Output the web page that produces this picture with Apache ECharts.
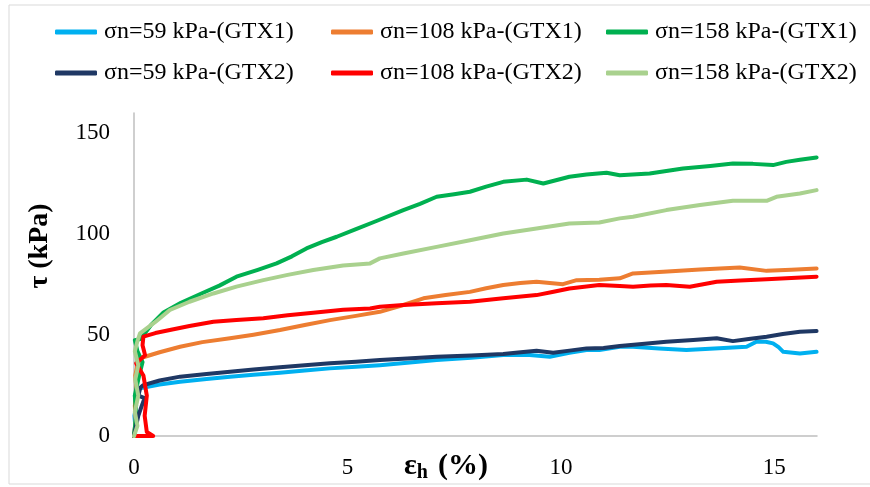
<!DOCTYPE html>
<html>
<head>
<meta charset="utf-8">
<script src="https://cdn.jsdelivr.net/npm/echarts@6/dist/echarts.min.js"></script>
<style>html,body{margin:0;padding:0;background:#fff}#c{width:870px;height:487px}</style>
</head>
<body>
<div id="c"></div>
<script>
const seriesNames = ['σn=59 kPa-(GTX1)','σn=108 kPa-(GTX1)','σn=158 kPa-(GTX1)','σn=59 kPa-(GTX2)','σn=108 kPa-(GTX2)','σn=158 kPa-(GTX2)'];
const xTicks = [0,5,10,15];
const yTicks = [0,50,100,150];

const gtx1_59 = [[0,0],[0.03,5],[0.01,10],[0.05,15],[0.02,20],[0.08,23],[0.14,23.6],[0.6,25.5],[1.08,26.9],[1.7,28.2],[2.25,29.4],[2.8,30.3],[3.42,31.3],[4.0,32.4],[4.59,33.5],[5.2,34.3],[5.76,35.1],[6.4,36.3],[7.09,37.6],[7.9,38.8],[8.65,40.1],[9.2,40.3],[9.74,39.3],[10.2,41.2],[10.6,42.6],[10.9,42.6],[11.38,44.2],[11.69,44.2],[12.3,43.4],[12.94,42.6],[13.6,43.4],[14.35,44.2],[14.58,46.7],[14.8,46.7],[14.97,45.9],[15.1,44],[15.21,41.7],[15.6,40.9],[15.99,41.7]];
const gtx1_108 = [[0,0],[0.04,8],[0.02,15],[0.06,22],[0.03,30],[0.08,35],[0.14,38.5],[0.6,41.5],[1.08,44.2],[1.6,46.5],[2.25,48.4],[2.8,50.2],[3.42,52.5],[4.0,55],[4.59,57.4],[5.2,59.5],[5.76,61.5],[6.31,64.9],[6.78,68.2],[7.3,69.8],[7.87,71.4],[8.25,73.2],[8.65,74.8],[9.05,75.8],[9.43,76.4],[10.05,75.2],[10.37,77.2],[10.9,77.4],[11.38,78.1],[11.69,80.5],[12.4,81.4],[13.26,82.5],[14.19,83.5],[14.82,81.8],[15.4,82.4],[15.99,83]];
const gtx1_158 = [[0,0],[0.05,10],[0.02,20],[0.1,28],[0.2,36.6],[0.08,42],[0.02,47.5],[0.15,48],[0.4,55],[0.68,61],[1.1,66],[1.58,70.6],[2.0,74.5],[2.4,78.9],[2.9,82.3],[3.34,85.5],[3.7,89],[4.04,92.9],[4.4,96],[4.75,98.7],[5.2,102.5],[5.68,106.5],[6.31,111.9],[6.7,115],[7.09,118.5],[7.5,119.8],[7.87,121],[8.25,123.5],[8.65,125.9],[9.2,127],[9.59,125.1],[10.2,128.4],[10.6,129.5],[11.07,130.4],[11.38,129.2],[12.08,130],[12.86,132.5],[13.5,133.8],[14.03,135],[14.5,134.8],[14.97,134.2],[15.28,135.8],[15.6,136.8],[15.99,138]];
const gtx2_59 = [[0,0],[0.05,5],[0.1,10],[0.2,16],[0.25,18.8],[0.1,20],[0.15,24],[0.22,25.2],[0.6,27.5],[1.08,29.4],[1.7,30.7],[2.25,31.8],[2.8,32.9],[3.42,34],[4.0,35],[4.59,36],[5.2,36.8],[5.76,37.6],[6.4,38.4],[7.09,39.3],[7.9,39.9],[8.65,40.6],[9.0,41.4],[9.43,42.2],[9.82,41.2],[10.2,42.3],[10.6,43.4],[11.0,43.6],[11.38,44.6],[11.9,45.6],[12.47,46.7],[13.1,47.5],[13.65,48.4],[14.03,47],[14.4,48],[14.82,49.2],[15.2,50.5],[15.6,51.6],[15.99,52]];
const gtx2_108 = [[0,0],[0.45,0],[0.3,2],[0.25,10],[0.3,20],[0.22,30],[0.05,36],[0.26,40],[0.2,45],[0.22,49.2],[0.5,51],[0.84,52.5],[1.3,54.5],[1.86,56.6],[2.4,57.5],[3.03,58.3],[3.6,59.8],[4.2,61.1],[4.9,62.5],[5.53,63.2],[5.76,64],[6.31,64.9],[7.09,65.7],[7.87,66.5],[8.65,68.2],[9.43,69.8],[9.8,71.3],[10.2,73.1],[10.9,74.8],[11.38,74.3],[11.69,73.9],[12.1,74.5],[12.47,74.8],[13.02,73.9],[13.65,76.4],[14.2,77],[14.82,77.6],[15.4,78.3],[15.99,78.9]];
const gtx2_158 = [[0,0],[0.08,5],[0.02,12],[0.1,20],[0.03,28],[0.1,35],[0.02,42],[0.08,47],[0.14,50.8],[0.5,56.5],[0.84,62.4],[1.3,66.5],[1.86,70.6],[2.4,74],[3.03,77.2],[3.6,79.8],[4.2,82.2],[4.9,84.5],[5.53,85.5],[5.76,88],[6.31,90.4],[7.09,93.7],[7.87,97],[8.65,100.3],[9.43,102.8],[10.2,105.3],[10.9,105.8],[11.38,107.8],[11.69,108.6],[12.47,111.9],[13.26,114.4],[14.03,116.5],[14.82,116.5],[15.05,118.5],[15.6,120.1],[15.99,121.8]];

const allData = [gtx1_59, gtx1_108, gtx1_158, gtx2_59, gtx2_108, gtx2_158];
const colors = ['#00B0F0','#ED7D31','#00B050','#1F3864','#FF0000','#A9D18E'];

const chart = echarts.init(document.getElementById('c'), null, {renderer:'canvas'});
const font = '"Liberation Serif","Times New Roman",serif';
const legPos = [[50,15],[326,15],[601,15],[50,56],[326,56],[601,56]];
const legends = seriesNames.map((n,i)=>({
  data:[n], left:legPos[i][0], top:legPos[i][1], icon:'roundRect', itemWidth:42, itemHeight:5, itemGap:0,
  textStyle:{fontFamily:font, fontSize:24, color:'#000', padding:[0,0,0,2]}, selectedMode:false
}));
chart.setOption({
  animation:false,
  backgroundColor:'#fff',
  color:colors,
  legend: legends,
  grid:{left:134, right:53, top:113, bottom:51, containLabel:false},
  xAxis:{type:'value', min:0, max:16, interval:5,
    axisLine:{show:true, lineStyle:{color:'#bfbfbf', width:1.5}}, axisTick:{show:false}, splitLine:{show:false},
    axisLabel:{fontFamily:font, fontSize:23, color:'#000', margin:20, showMaxLabel:false,
      formatter:v=>xTicks.includes(v)?String(v):''}},
  yAxis:{type:'value', min:0, max:160, interval:50,
    axisLine:{show:true, lineStyle:{color:'#bfbfbf', width:1.5}}, axisTick:{show:false}, splitLine:{show:false},
    axisLabel:{fontFamily:font, fontSize:23, color:'#000', margin:24, showMaxLabel:false,
      formatter:v=>yTicks.includes(v)?String(v):''}},
  graphic:[
    {type:'rect', shape:{x:9, y:5, width:900, height:479}, style:{fill:'none', stroke:'#d9d9d9', lineWidth:1}, silent:true, z:-10},
    {type:'text', x:40, y:246, rotation:Math.PI/2, style:{text:'τ (kPa)', font:'bold 28px '+font, fill:'#000', align:'center', verticalAlign:'middle'}},
    {type:'text', x:404, y:466, style:{text:'{e|ε}{h|h}{s| }{e|(%)}', align:'left', verticalAlign:'middle',
      rich:{e:{font:'bold 30px '+font, fill:'#000'}, s:{font:'bold 30px '+font, fill:'#000', width:10}, h:{font:'bold 20px '+font, fill:'#000', padding:[13,0,0,0]}}}}
  ],
  series: allData.map((d,i)=>({
    name:seriesNames[i], type:'line', data:d, showSymbol:false, symbol:'none', smooth:false,
    lineStyle:{width:4, color:colors[i], cap:'round', join:'round'}
  }))
});
</script>
</body>
</html>
